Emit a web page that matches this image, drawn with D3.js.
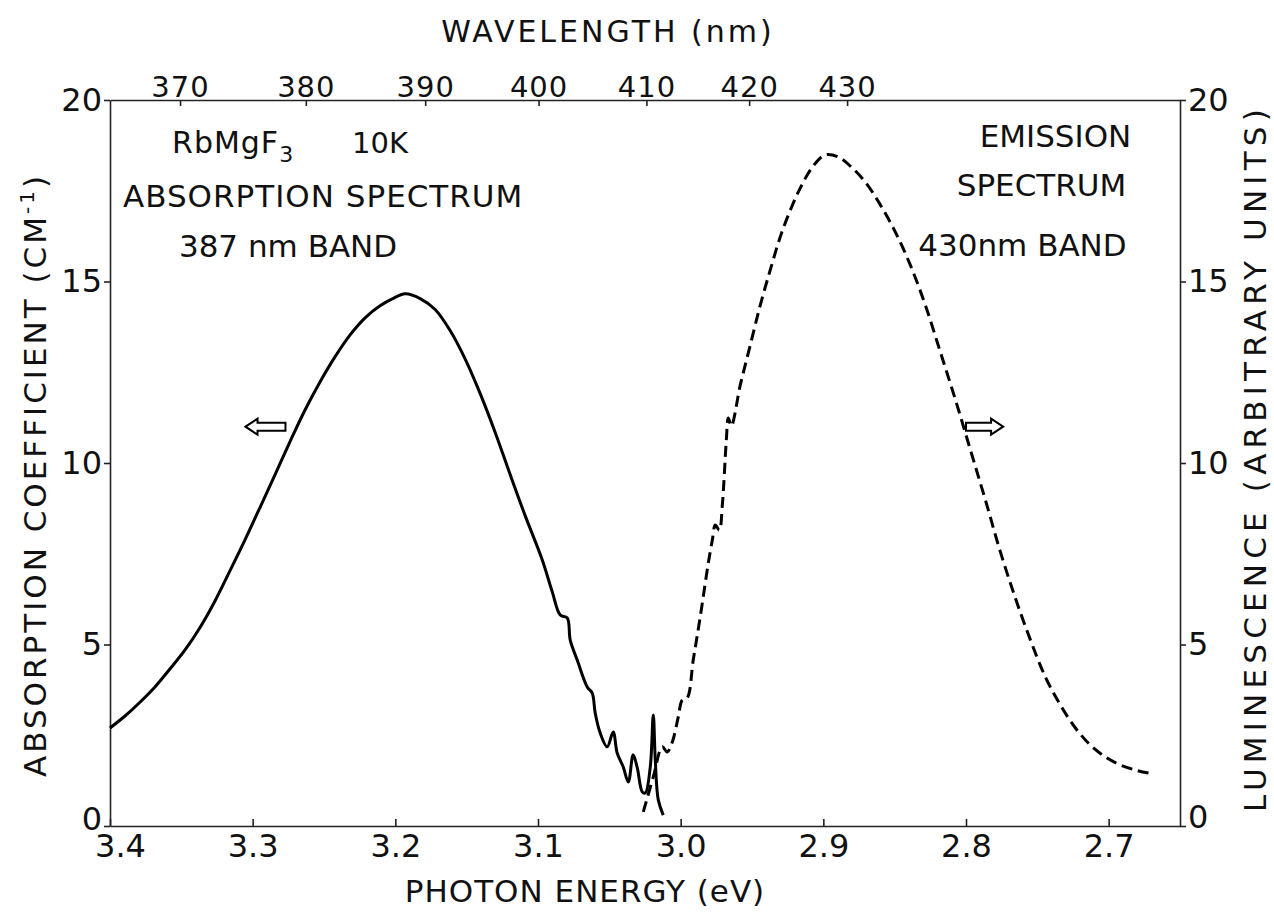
<!DOCTYPE html>
<html>
<head>
<meta charset="utf-8">
<script src="https://cdn.jsdelivr.net/npm/d3@7"></script>
<style>
  body { margin: 0; background: #fff; }
  svg text { font-family: "DejaVu Sans", sans-serif; fill: #111; }
</style>
</head>
<body>
<svg id="chart" width="1274" height="920"></svg>
<script>
// RbMgF3 at 10 K: absorption of the 387 nm band (photon energy in eV, coefficient in cm^-1)
const absEnergy = [3.4000, 3.3895, 3.3790, 3.3685, 3.3579, 3.3474, 3.3369, 3.3264, 3.3158, 3.3053,
  3.2948, 3.2843, 3.2738, 3.2633, 3.2527, 3.2422, 3.2317, 3.2212, 3.2107, 3.2022,
  3.1931, 3.1826, 3.1721, 3.1616, 3.1511, 3.1405, 3.1300, 3.1195, 3.1090, 3.0970,
  3.0900, 3.0844, 3.0795, 3.0774, 3.0725, 3.0655, 3.0620, 3.0599, 3.0564, 3.0515,
  3.0473, 3.0445, 3.0403, 3.0367, 3.0333, 3.0304, 3.0269, 3.0248, 3.0213, 3.0192,
  3.0178, 3.0157, 3.0122];
const absCoefficient = [2.70, 3.03, 3.41, 3.83, 4.33, 4.85, 5.47, 6.20, 7.04, 7.89,
  8.78, 9.68, 10.59, 11.46, 12.24, 12.93, 13.53, 14.00, 14.33, 14.52,
  14.66, 14.53, 14.23, 13.65, 12.87, 11.91, 10.84, 9.68, 8.55, 7.33,
  6.45, 5.81, 5.73, 5.12, 4.57, 3.83, 3.66, 3.11, 2.56, 2.18,
  2.59, 2.01, 1.63, 1.21, 1.96, 1.60, 0.94, 0.91, 1.63, 3.06,
  1.82, 0.72, 0.30];

// Emission of the 430 nm band (photon energy in eV, luminescence in arbitrary units)
const emEnergy = [3.0262, 3.0192, 3.0129, 3.0094, 3.0059, 3.0017, 2.9989, 2.9954, 2.9912, 2.9863,
  2.9806, 2.9778, 2.9757, 2.9729, 2.9708, 2.9680, 2.9666, 2.9645, 2.9582, 2.9512,
  2.9442, 2.9372, 2.9302, 2.9231, 2.9161, 2.9077, 2.8986, 2.8895, 2.8811, 2.8706,
  2.8600, 2.8495, 2.8390, 2.8285, 2.8180, 2.8074, 2.7969, 2.7864, 2.7759, 2.7654,
  2.7548, 2.7443, 2.7338, 2.7233, 2.7128, 2.7022, 2.6917, 2.6812, 2.6721];
const emIntensity = [0.39, 1.35, 2.18, 2.04, 2.31, 3.00, 3.47, 3.53, 4.57, 5.76,
  7.25, 7.88, 8.29, 8.15, 8.84, 10.63, 11.24, 11.02, 12.15, 13.25,
  14.35, 15.32, 16.23, 16.97, 17.58, 18.15, 18.49, 18.43, 18.18, 17.74,
  17.11, 16.36, 15.45, 14.35, 13.06, 11.74, 10.36, 8.98, 7.55, 6.28,
  5.12, 4.10, 3.33, 2.70, 2.23, 1.90, 1.68, 1.54, 1.46];

// Axis ticks
const energyTicks = [3.4, 3.3, 3.2, 3.1, 3.0, 2.9, 2.8, 2.7];
const wavelengthTicks = [370, 380, 390, 400, 410, 420, 430];
const valueTicks = [0, 5, 10, 15, 20];

const HC = 1239.84; // eV·nm

const svg = d3.select("#chart");
const plot = { left: 110, right: 1180, top: 100, bottom: 826 };

const x = d3.scaleLinear().domain([3.4, 2.65]).range([plot.left, plot.right]);
const yAbs = d3.scaleLinear().domain([0, 20]).range([plot.bottom, plot.top]);
const yLum = d3.scaleLinear().domain([0, 20]).range([plot.bottom, plot.top]);

function styleAxis(g, size) {
  g.selectAll(".domain, .tick line").attr("stroke", "#222").attr("stroke-width", 1.6);
  g.selectAll("text").attr("font-size", size).attr("fill", "#111")
    .attr("font-family", "DejaVu Sans, sans-serif");
}

// bottom: photon energy
const gB = svg.append("g").attr("transform", `translate(0,${plot.bottom})`)
  .call(d3.axisBottom(x).tickValues(energyTicks).tickFormat(d3.format(".1f"))
    .tickSizeInner(-7).tickSizeOuter(0).tickPadding(8));
styleAxis(gB, 32);
gB.selectAll(".tick text").filter(d => d === 3.4).attr("dx", 10);

// top: wavelength
const gT = svg.append("g").attr("transform", `translate(0,${plot.top})`)
  .call(d3.axisTop(x).tickValues(wavelengthTicks.map(w => HC / w))
    .tickFormat((d, i) => wavelengthTicks[i])
    .tickSizeInner(-6).tickSizeOuter(0).tickPadding(3));
styleAxis(gT, 29);
gT.selectAll(".tick text").attr("letter-spacing", 1);

// left: absorption coefficient
const gL = svg.append("g").attr("transform", `translate(${plot.left},0)`)
  .call(d3.axisLeft(yAbs).tickValues(valueTicks).tickSizeInner(6).tickSizeOuter(0).tickPadding(2));
styleAxis(gL, 32);
gL.selectAll(".tick text").filter(d => d === 0).attr("dy", "0.1em");

// right: luminescence
const gR = svg.append("g").attr("transform", `translate(${plot.right},0)`)
  .call(d3.axisRight(yLum).tickValues(valueTicks).tickSizeInner(6).tickSizeOuter(0).tickPadding(2));
styleAxis(gR, 32);
gR.selectAll(".tick text").filter(d => d === 0).attr("dy", "0.05em");

// axis titles
svg.append("text").attr("x", 608).attr("y", 42).attr("text-anchor", "middle")
  .attr("font-size", 30).attr("letter-spacing", 3).text("WAVELENGTH (nm)");
svg.append("text").attr("x", 585).attr("y", 902).attr("text-anchor", "middle")
  .attr("font-size", 31).attr("letter-spacing", 1).text("PHOTON ENERGY (eV)");

const tl = svg.append("text").attr("transform", "translate(46,475) rotate(-90)")
  .attr("text-anchor", "middle").attr("font-size", 31).attr("letter-spacing", 3);
tl.append("tspan").text("ABSORPTION COEFFICIENT (CM");
tl.append("tspan").attr("dy", -12).attr("font-size", 20).text("-1");
tl.append("tspan").attr("dy", 12).text(")");

svg.append("text").attr("transform", "translate(1266,458) rotate(-90)")
  .attr("text-anchor", "middle").attr("font-size", 31).attr("letter-spacing", 5.2)
  .text("LUMINESCENCE (ARBITRARY UNITS)");

// spectra
const line = (xs, ys, yScale) => d3.line()
  .x((d, i) => x(xs[i])).y((d, i) => yScale(ys[i]))
  .curve(d3.curveCatmullRom.alpha(0.5))(xs);

svg.append("path").attr("d", line(absEnergy, absCoefficient, yAbs))
  .attr("fill", "none").attr("stroke", "#000").attr("stroke-width", 3)
  .attr("stroke-linejoin", "round");

svg.append("path").attr("d", line(emEnergy, emIntensity, yLum))
  .attr("fill", "none").attr("stroke", "#000").attr("stroke-width", 3)
  .attr("stroke-dasharray", "11,6");

// hollow arrows pointing to the axis each curve belongs to
function hollowArrow(eTip, eTail, v, yScale) {
  const xt = x(eTip), xb = x(eTail), yc = yScale(v);
  const dir = Math.sign(xb - xt);
  const hx = xt + dir * 12;
  const pts = [[xt, yc], [hx, yc - 8], [hx, yc - 4], [xb, yc - 4], [xb, yc + 4], [hx, yc + 4], [hx, yc + 8]];
  svg.append("path").attr("d", "M" + pts.map(p => p.join(",")).join("L") + "Z")
    .attr("fill", "#fff").attr("stroke", "#000").attr("stroke-width", 2);
}
hollowArrow(3.305, 3.277, 11.0, yAbs);
hollowArrow(2.774, 2.800, 11.0, yLum);

// annotations
const t1 = svg.append("text").attr("x", x(3.3565)).attr("y", yAbs(18.54))
  .attr("font-size", 30).attr("letter-spacing", 1);
t1.append("tspan").text("RbMgF");
t1.append("tspan").attr("dy", 9).attr("font-size", 22).text("3");
svg.append("text").attr("x", x(3.2303)).attr("y", yAbs(18.54)).attr("font-size", 29).text("10K");
svg.append("text").attr("x", x(3.2506)).attr("y", yAbs(17.05)).attr("text-anchor", "middle")
  .attr("font-size", 31).attr("letter-spacing", 1).text("ABSORPTION SPECTRUM");
svg.append("text").attr("x", x(3.2752)).attr("y", yAbs(15.67)).attr("text-anchor", "middle")
  .attr("font-size", 31).text("387 nm BAND");

svg.append("text").attr("x", x(2.7373)).attr("y", yLum(18.7)).attr("text-anchor", "middle")
  .attr("font-size", 31).text("EMISSION");
svg.append("text").attr("x", x(2.7471)).attr("y", yLum(17.36)).attr("text-anchor", "middle")
  .attr("font-size", 31).text("SPECTRUM");
svg.append("text").attr("x", x(2.7604)).attr("y", yLum(15.7)).attr("text-anchor", "middle")
  .attr("font-size", 31).text("430nm BAND");
</script>
</body>
</html>
